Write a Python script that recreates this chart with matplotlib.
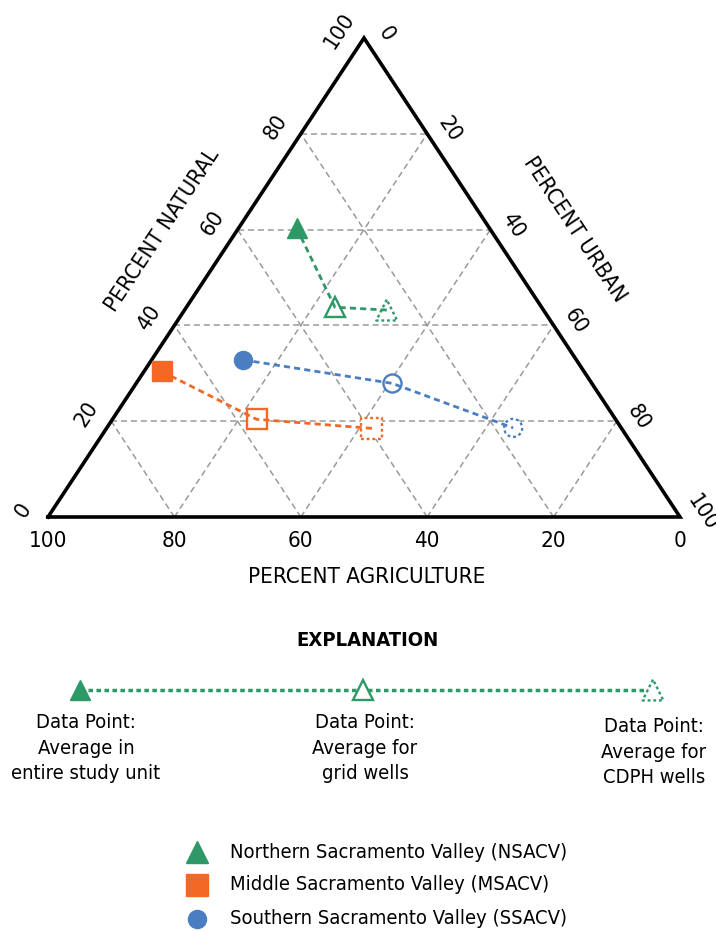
import matplotlib
matplotlib.use('Agg')
import matplotlib.pyplot as plt
import numpy as np

plt.rcParams['font.family'] = ['DejaVu Sans']
plt.rcParams['font.stretch'] = 'condensed'

# land use, percent: [entire study unit, grid wells, CDPH wells]
nsacv_natural = [60.3, 43.8, 43.2]
nsacv_urban = [9.2, 23.5, 32.0]
nsacv_agri = [30.5, 32.7, 24.8]

msacv_natural = [30.4, 20.4, 18.5]
msacv_urban = [2.8, 22.8, 42.0]
msacv_agri = [66.8, 56.8, 39.5]

ssacv_natural = [32.8, 27.9, 18.6]
ssacv_urban = [14.5, 40.5, 64.3]
ssacv_agri = [52.7, 31.6, 17.1]

grid_ticks = [20, 40, 60, 80]
tick_labels = ["0", "20", "40", "60", "80", "100"]

green = "#2E9866"
orange = "#F26824"
blue = "#4A7EC1"
grey = "#9a9a9a"
W, H = 716, 931
ROT = np.degrees(np.arctan2(479, 316))


def tern(agri, nat, urb):
    agri, nat, urb = np.asarray(agri, float), np.asarray(nat, float), np.asarray(urb, float)
    tot = agri + nat + urb
    n = nat / tot
    u = urb / tot
    return u + n / 2, n


fig = plt.figure(figsize=(W / 100, H / 100), dpi=100)

# page axes in pixel units for text and explanation
pax = fig.add_axes([0, 0, 1, 1])
pax.set_xlim(0, W)
pax.set_ylim(H, 0)
pax.axis('off')

# ternary axes sitting on the triangle
ax = fig.add_axes([48 / W, (H - 517) / H, 632 / W, 479 / H])
ax.set_xlim(0, 1)
ax.set_ylim(0, 1)
ax.axis('off')

# grid
for t in grid_ticks:
    # constant natural (horizontal)
    x0, y0 = tern(100 - t, t, 0)
    x1, y1 = tern(0, t, 100 - t)
    ax.plot([x0, x1], [y0, y1], color=grey, lw=1.1, ls=(0, (4, 2.5)), zorder=1)
    # constant agriculture
    x0, y0 = tern(t, 0, 100 - t)
    x1, y1 = tern(t, 100 - t, 0)
    ax.plot([x0, x1], [y0, y1], color=grey, lw=1.1, ls=(0, (4, 2.5)), zorder=1)
    # constant urban
    x0, y0 = tern(100 - t, 0, t)
    x1, y1 = tern(0, 100 - t, t)
    ax.plot([x0, x1], [y0, y1], color=grey, lw=1.1, ls=(0, (4, 2.5)), zorder=1)

ax.plot([0, 1, 0.5, 0], [0, 0, 1, 0], color='black', lw=2.6, solid_joinstyle='miter',
        clip_on=False, zorder=3)

# tick labels
fs = 16
for i, lab in enumerate(tick_labels):
    v = i * 20
    # agriculture along the bottom
    x, y = tern(v, 0, 100 - v)
    ax.annotate(lab, (x, y), xytext=(0, -17), textcoords='offset points',
                ha='center', va='center', fontsize=fs)
    # natural along the left side
    x, y = tern(100 - v, v, 0)
    ax.annotate(lab, (x, y), xytext=(-18, 5), textcoords='offset points',
                ha='center', va='center', fontsize=fs, rotation=ROT)
    # urban along the right side
    x, y = tern(0, 100 - v, v)
    ax.annotate(lab, (x, y), xytext=(16, 3), textcoords='offset points',
                ha='center', va='center', fontsize=fs, rotation=-ROT)

pax.text(367, 577, "PERCENT AGRICULTURE", ha='center', va='center', fontsize=fs)
pax.text(162, 230, "PERCENT NATURAL", ha='center', va='center', fontsize=fs, rotation=ROT)
pax.text(575, 229, "PERCENT URBAN", ha='center', va='center', fontsize=fs, rotation=-ROT)

# data
series = [
    (nsacv_agri, nsacv_natural, nsacv_urban, green, '^', 15),
    (msacv_agri, msacv_natural, msacv_urban, orange, 's', 15),
    (ssacv_agri, ssacv_natural, ssacv_urban, blue, 'o', 13),
]
for agri, nat, urb, col, mk, ms in series:
    x, y = tern(agri, nat, urb)
    ax.plot(x[0], y[0], marker=mk, ms=ms, color=col, mec=col, ls='none', zorder=4)
    ax.plot(x[1], y[1], marker=mk, ms=ms, mfc='white', mec=col, mew=1.7, ls='none', zorder=4)
    ax.scatter(x[2], y[2], marker=mk, s=ms ** 2, facecolor='white', edgecolor=col,
               linewidth=1.7, linestyle=(0, (1.2, 1.2)), zorder=4)
    ax.plot(x, y, color=col, lw=2.0, ls=(0, (2.2, 1.5)), zorder=5)

# explanation
lfs = 14.5
pax.text(368, 640, "EXPLANATION", ha='center', va='center', fontsize=14.5, fontweight='bold')
ex_x = [80, 363, 653]
ex_y = 690
pax.plot(ex_x, [ex_y] * 3, color=green, lw=2.5, ls=(0, (1.3, 1.0)), zorder=1)
pax.plot(ex_x[0], ex_y, marker='^', ms=15, color=green, ls='none', zorder=2)
pax.plot(ex_x[1], ex_y, marker='^', ms=15, mfc='white', mec=green, mew=1.7, ls='none', zorder=2)
pax.scatter(ex_x[2], ex_y, marker='^', s=225, facecolor='white', edgecolor=green,
            linewidth=1.7, linestyle=(0, (1.2, 1.2)), zorder=2)
ex_text = ["Data Point:\nAverage in\nentire study unit",
           "Data Point:\nAverage for\ngrid wells",
           "Data Point:\nAverage for\nCDPH wells"]
ex_tx = [86, 365, 654]
ex_ty = [748, 748, 752]
for xx, tt, yy in zip(ex_tx, ex_text, ex_ty):
    pax.text(xx, yy, tt, ha='center', va='center', fontsize=lfs, linespacing=1.42)

leg_names = ["Northern Sacramento Valley (NSACV)",
             "Middle Sacramento Valley (MSACV)",
             "Southern Sacramento Valley (SSACV)"]
leg_y = [852, 885, 919]
for (agri, nat, urb, col, mk, ms), name, yy in zip(series, leg_names, leg_y):
    pax.plot(197, yy, marker=mk, ms=ms + 1 if mk != 'o' else 13, color=col, ls='none')
    pax.text(230, yy, name, ha='left', va='center', fontsize=lfs)

fig.savefig("out.png", dpi=100)
